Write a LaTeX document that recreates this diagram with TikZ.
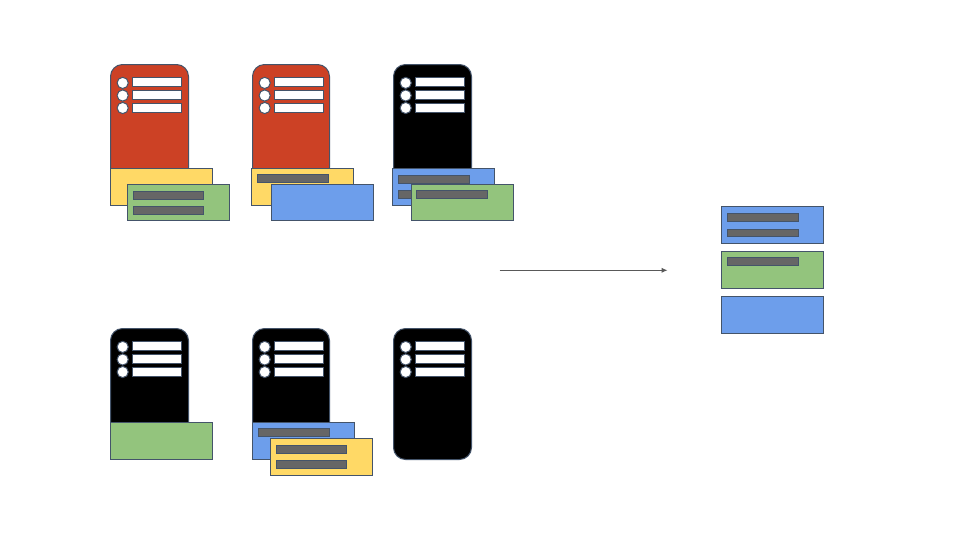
\documentclass[tikz,border=0pt]{standalone}
\usetikzlibrary{arrows.meta}
\definecolor{rackred}{HTML}{CC4125}
\definecolor{cyellow}{HTML}{FFD966}
\definecolor{cgreen}{HTML}{93C47D}
\definecolor{cblue}{HTML}{6D9EEB}
\definecolor{cgrey}{HTML}{666666}
\definecolor{edge}{HTML}{44546A}
\definecolor{arrowgrey}{HTML}{595959}
\tikzset{
  px/.style={x=0.75pt,y=-0.75pt},
  outlined/.style={draw=edge,line width=0.75pt},
  rackbody/.style={outlined,rounded corners=9pt},
  slotbar/.style={outlined,fill=white},
  slotdot/.style={outlined,fill=white},
  greybar/.style={outlined,fill=cgrey},
  flow/.style={draw=arrowgrey,line width=0.75pt,-{Latex[length=4.5pt,width=4pt]}},
}
\newcommand{\rack}[5]{% x, y, colour, width, height
  \begin{scope}[shift={(#1,#2)}]
    \draw[rackbody,fill=#3] (0,0) rectangle (#4,#5);
    \foreach \oy/\cy in {13/18.4,25.8/31,38.8/43.5}{
      \draw[slotdot] (12.2,\cy) circle[radius=5.6];
      \draw[slotbar] (21.6,\oy) rectangle (70.8,\oy+9.4);
    }
  \end{scope}}
\newcommand{\card}[3]{\draw[outlined,fill=#3] (#1,#2) rectangle ++(102,37);}
\newcommand{\gbar}[4][71]{\draw[greybar] (#2,#3) rectangle ++(#1,#4);}
\begin{document}
\begin{tikzpicture}[px]
\useasboundingbox (0,0) rectangle (960,540);
\fill[white] (0,0) rectangle (960,540);
% top row
\rack{110.5}{64.5}{rackred}{78}{115}
\card{110.5}{168.5}{cyellow}
\draw[outlined,fill=cgreen] (127.5,184.5) rectangle ++(102,36);
\gbar[70.3]{133.5}{191.5}{7.5}
\gbar[70.3]{133.5}{206.5}{8}
\rack{252.5}{64.5}{rackred}{77}{115}
\card{251.5}{168.5}{cyellow}
\gbar{257.5}{174.5}{7.5}
\draw[outlined,fill=cblue] (271.5,184.5) rectangle ++(102,36);
\rack{393.5}{64.5}{black}{78}{115}
\card{392.5}{168.5}{cblue}
\gbar{398.5}{175.5}{7.5}
\gbar{398.5}{190.5}{8}
\draw[outlined,fill=cgreen] (411.5,184.5) rectangle ++(102,36);
\gbar{416.5}{190.5}{7.5}
% bottom row
\rack{110.5}{328.5}{black}{78}{115}
\card{110.5}{422.5}{cgreen}
\rack{252.5}{328.5}{black}{77}{115}
\card{252.5}{422.5}{cblue}
\gbar{258.5}{428.5}{8}
\card{270.5}{438.5}{cyellow}
\gbar[70.3]{276.5}{445.5}{7.5}
\gbar[70.3]{276.5}{460.5}{8}
\rack{393.5}{328.5}{black}{78}{131}
% arrow
\coordinate (flowstart) at (499.7,270.3);
\coordinate (flowend) at (667.5,270.3);
\draw[flow] (flowstart) -- (flowend);
% right stack
\card{721.5}{206.5}{cblue}
\gbar{727.5}{213.5}{7.5}
\gbar{727.5}{229.5}{7}
\card{721.5}{251.5}{cgreen}
\gbar{727.5}{257.5}{7.5}
\card{721.5}{296.5}{cblue}
\end{tikzpicture}
\end{document}
